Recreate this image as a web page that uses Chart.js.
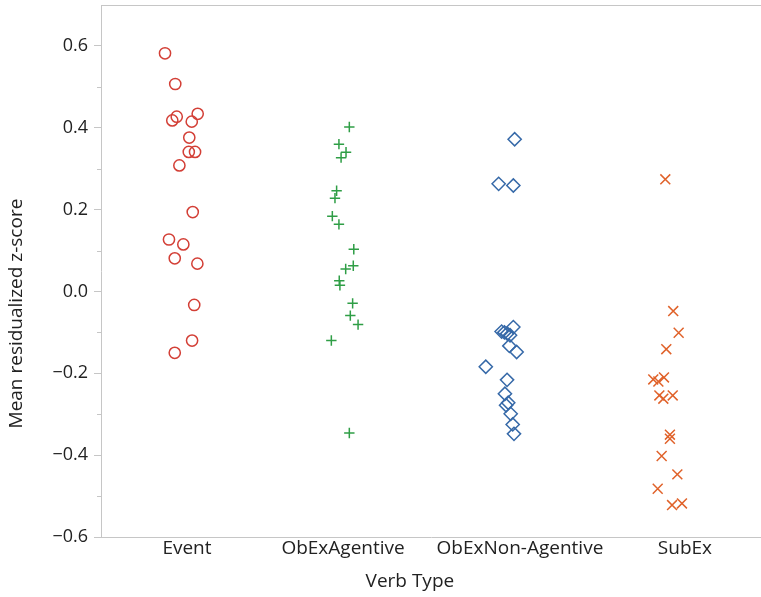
<!DOCTYPE html>
<html>
<head>
<meta charset="utf-8">
<script src="https://cdn.jsdelivr.net/npm/chart.js@4/dist/chart.umd.min.js"></script>
<style>
  html, body { margin: 0; padding: 0; background: #ffffff; }
  #wrap { width: 761px; height: 597px; }
</style>
</head>
<body>
<div id="wrap"><canvas id="c" width="761" height="597"></canvas></div>
<script>
// Verb types on the horizontal axis
const categories = ['Event', 'ObExAgentive', 'ObExNon-Agentive', 'SubEx'];

// Mean residualized z-score per verb, grouped by verb type
const eventScores = [0.582, 0.507, 0.427, 0.418, 0.434, 0.415, 0.376, 0.341, 0.341, 0.308, 0.194, 0.127, 0.115, 0.081, 0.068, -0.033, -0.120, -0.150];
const obExAgentiveScores = [0.402, 0.360, 0.340, 0.327, 0.246, 0.228, 0.184, 0.164, 0.103, 0.063, 0.055, 0.026, 0.015, -0.029, -0.059, -0.081, -0.120, -0.346];
const obExNonAgentiveScores = [0.372, 0.263, 0.259, -0.087, -0.098, -0.100, -0.103, -0.107, -0.133, -0.148, -0.184, -0.216, -0.250, -0.272, -0.278, -0.299, -0.325, -0.348];
const subExScores = [0.274, -0.048, -0.101, -0.141, -0.215, -0.220, -0.210, -0.254, -0.262, -0.254, -0.350, -0.360, -0.402, -0.447, -0.482, -0.522, -0.518];

// Horizontal jitter of each point within its category (category widths)
const eventJitter = [-0.112, -0.050, -0.041, -0.068, 0.086, 0.050, 0.035, 0.032, 0.070, -0.025, 0.056, -0.088, -0.001, -0.053, 0.084, 0.065, 0.052, -0.053];
const obExAgentiveJitter = [0.005, -0.058, -0.015, -0.045, -0.072, -0.082, -0.098, -0.058, 0.032, 0.029, -0.017, -0.056, -0.052, 0.025, 0.011, 0.058, -0.104, 0.005];
const obExNonAgentiveJitter = [0.007, -0.090, -0.001, -0.001, -0.072, -0.055, -0.038, -0.021, -0.025, 0.019, -0.168, -0.039, -0.052, -0.032, -0.045, -0.017, -0.005, 0.003];
const subExJitter = [-0.080, -0.032, 0.001, -0.074, -0.153, -0.122, -0.088, -0.116, -0.092, -0.035, -0.052, -0.052, -0.102, -0.007, -0.126, -0.039, 0.021];

// Labelled y ticks and the unlabelled minor ticks between them
const yTicks = [-0.6, -0.4, -0.2, 0.0, 0.2, 0.4, 0.6];
const yMinorTicks = [-0.5, -0.3, -0.1, 0.1, 0.3, 0.5];

// Axis titles
const xTitle = 'Verb Type';
const yTitle = 'Mean residualized z-score';

const FONT = '"Open Sans", "Noto Sans", sans-serif';
const AXIS_GREY = '#c6c6c6';
const TEXT = '#222222';

function toPoints(index, scores, jitter) {
  return scores.map((v, i) => ({ x: index + 0.5 + jitter[i], y: v }));
}

function fmt(v) {
  const s = Math.abs(v).toFixed(1);
  return v < -1e-9 ? '\u2212' + s : s;
}

// Top frame line, short unlabelled minor ticks on the y axis, and the axis titles
const framePlugin = {
  id: 'frame',
  afterDraw(chart) {
    const { ctx, chartArea, scales } = chart;
    const y = scales.y;
    ctx.save();
    ctx.strokeStyle = AXIS_GREY;
    ctx.lineWidth = 1;
    ctx.beginPath();
    ctx.moveTo(chartArea.left, chartArea.top + 0.5);
    ctx.lineTo(chartArea.right, chartArea.top + 0.5);
    yMinorTicks.forEach(v => {
      const py = Math.round(y.getPixelForValue(v)) + 0.5;
      ctx.moveTo(chartArea.left - 4, py);
      ctx.lineTo(chartArea.left, py);
    });
    ctx.stroke();

    ctx.fillStyle = TEXT;
    ctx.font = '19px ' + FONT;
    ctx.textAlign = 'center';
    ctx.textBaseline = 'middle';
    const xMid = chartArea.left + chartArea.width * 0.468;
    ctx.fillText(xTitle, xMid, chart.height - 15);

    const yMid = chartArea.top + chartArea.height * 0.58;
    ctx.translate(17, yMid);
    ctx.rotate(-Math.PI / 2);
    ctx.fillText(yTitle, 0, 0);
    ctx.restore();
  }
};

// Label anchor for each verb type along the x axis
const tickAt = [0.521, 1.467, 2.539, 3.539];

function noEdgePadding(scale) {
  scale.paddingLeft = 0;
  scale.paddingRight = 0;
  scale.paddingTop = 0;
  scale.paddingBottom = 0;
}

new Chart(document.getElementById('c'), {
  type: 'scatter',
  data: {
    datasets: [
      {
        label: categories[0],
        data: toPoints(0, eventScores, eventJitter),
        pointStyle: 'circle',
        pointRadius: 5.6,
        borderColor: '#d33f36',
        backgroundColor: 'rgba(0,0,0,0)',
        borderWidth: 1.5
      },
      {
        label: categories[1],
        data: toPoints(1, obExAgentiveScores, obExAgentiveJitter),
        pointStyle: 'cross',
        pointRadius: 5.2,
        borderColor: '#2f9e46',
        backgroundColor: 'rgba(0,0,0,0)',
        borderWidth: 1.5
      },
      {
        label: categories[2],
        data: toPoints(2, obExNonAgentiveScores, obExNonAgentiveJitter),
        pointStyle: 'rectRot',
        pointRadius: 6.6,
        borderColor: '#3669a8',
        backgroundColor: 'rgba(0,0,0,0)',
        borderWidth: 1.5
      },
      {
        label: categories[3],
        data: toPoints(3, subExScores, subExJitter),
        pointStyle: 'crossRot',
        pointRadius: 7,
        borderColor: '#e0622a',
        backgroundColor: 'rgba(0,0,0,0)',
        borderWidth: 1.5
      }
    ]
  },
  options: {
    responsive: false,
    animation: false,
    layout: { autoPadding: false, padding: { top: 5, right: 0, left: 0, bottom: 0 } },
    plugins: {
      legend: { display: false },
      tooltip: { enabled: false }
    },
    scales: {
      x: {
        type: 'linear',
        min: 0,
        max: 4,
        afterBuildTicks(scale) {
          scale.ticks = tickAt.map(v => ({ value: v }));
        },
        afterFit(scale) { scale.height = 60; noEdgePadding(scale); },
        grid: { display: false, drawTicks: false },
        border: { display: true, color: AXIS_GREY, width: 1 },
        ticks: {
          autoSkip: false,
          maxRotation: 0,
          padding: 0,
          color: TEXT,
          font: { family: FONT, size: 19 },
          callback(value, i) { return categories[i]; }
        },
        title: { display: false }
      },
      y: {
        type: 'linear',
        min: -0.6,
        max: 0.7,
        afterBuildTicks(scale) {
          scale.ticks = yTicks.map(v => ({ value: v }));
        },
        afterFit(scale) { scale.width = 101; noEdgePadding(scale); },
        grid: {
          drawOnChartArea: false,
          drawTicks: true,
          tickLength: 7,
          color: AXIS_GREY
        },
        border: { display: true, color: AXIS_GREY, width: 1 },
        ticks: {
          padding: 6,
          color: TEXT,
          font: { family: FONT, size: 18 },
          callback(value) { return fmt(value); }
        },
        title: { display: false }
      }
    }
  },
  plugins: [framePlugin]
});
</script>
</body>
</html>
